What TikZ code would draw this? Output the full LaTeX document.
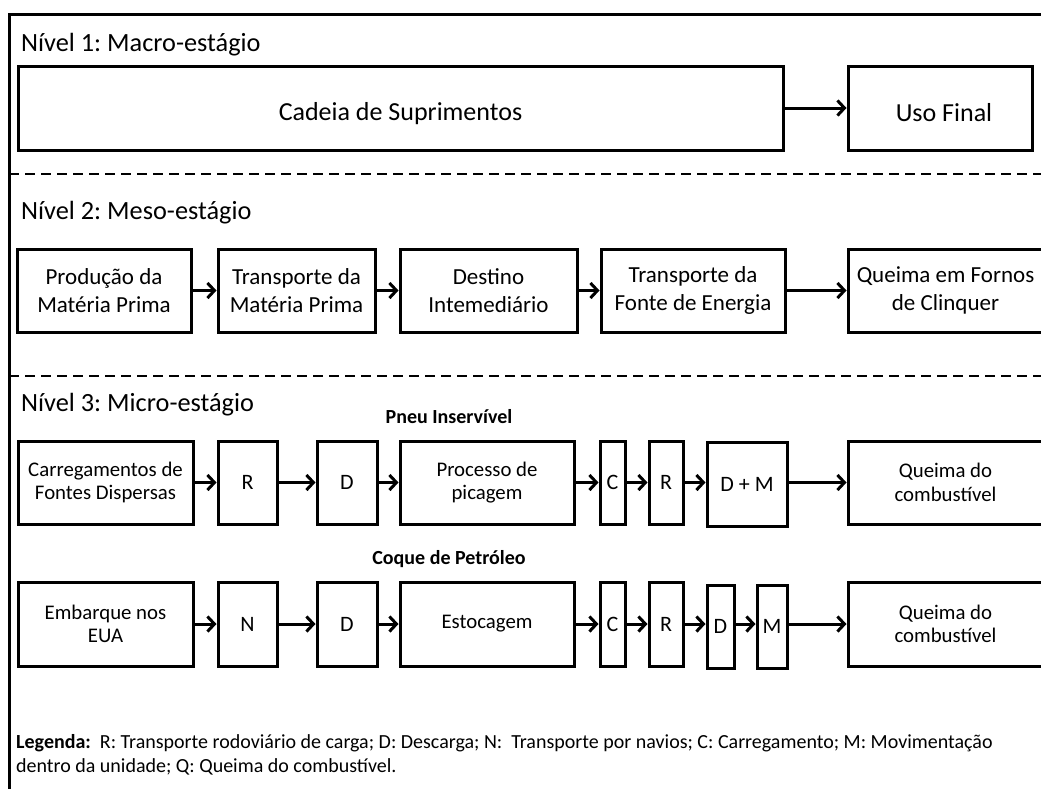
\documentclass[tikz,border=0pt]{standalone}
\usepackage{fontspec}
\setmainfont{Carlito}
\usetikzlibrary{arrows.meta}
\frenchspacing

\begin{document}
\begin{tikzpicture}[x=1pt,y=-1pt,
  box/.style={draw,line width=3pt,inner sep=0pt,align=center,minimum height=83pt,font=\fontsize{20.8}{23.5}\selectfont},
  letter/.style={box,font=\fontsize{22}{26}\selectfont},
  flow/.style={line width=3pt,-{Straight Barb[length=7pt,width=15pt]}},
  level/.style={anchor=west,inner sep=0pt,font=\fontsize{26.3}{30}\selectfont},
  split/.style={line width=1.8pt,dash pattern=on 10pt off 6pt}]

\pgfmathsetmacro{\YA}{108}
\pgfmathsetmacro{\YB}{290.5}
\pgfmathsetmacro{\YP}{482.5}
\pgfmathsetmacro{\YC}{624}

\clip (0,0) rectangle (1041,788);

% frame
\draw[line width=3pt] (9,800)--(9,14)--(1050,14);

% level 1
\node[level] (lv1) at (21,45) {Nível 1: Macro-estágio};
\node[box,minimum width=765pt,minimum height=84pt,font=\fontsize{26}{30}\selectfont] (cadeia) at (400.5,\YA) {\raisebox{-12pt}[0pt][0pt]{Cadeia de Suprimentos}};
\node[box,minimum width=184pt,minimum height=84pt,font=\fontsize{26}{30}\selectfont] (uso) at (940,\YA) {\raisebox{-13pt}[0pt][0pt]{\hspace{8pt}Uso Final}};
\draw[flow] (cadeia) -- (uso);

\draw[split] (9,174) -- (1041,174);

% level 2
\node[level] (lv2) at (21,213) {Nível 2: Meso-estágio};
\begin{scope}[box/.append style={font=\fontsize{23}{28}\selectfont}]
\node[box,minimum width=174pt] (prod) at (104,\YB) {Produção da\\Matéria Prima};
\node[box,minimum width=157pt] (tmp) at (296.5,\YB) {Transporte da\\Matéria Prima};
\node[box,minimum width=177pt] (dest) at (488.5,\YB) {Destino\\Intemediário};
\node[box,minimum width=184pt] (tfe) at (693,\YB) {Transporte da\\Fonte de Energia};
\node[box,minimum width=195pt] (forno) at (945.5,\YB) {Queima em Fornos\\de Clinquer};
\end{scope}
\draw[flow] (prod) -- (tmp);
\draw[flow] (tmp) -- (dest);
\draw[flow] (dest) -- (tfe);
\draw[flow] (tfe) -- (forno);

\draw[split] (9,376) -- (1041,376);

% level 3
\node[level] (lv3) at (21,405) {Nível 3: Micro-estágio};

% pneu
\node[font=\bfseries\fontsize{20}{22}\selectfont] (pneu) at (449,417) {Pneu Inservível};
\node[box,minimum width=175pt] (carr) at (105.5,\YP) {Carregamentos de\\Fontes Dispersas};
\node[letter,minimum width=59pt] (ra) at (247.5,\YP) {R};
\node[letter,minimum width=60pt] (da) at (347,\YP) {D};
\node[box,minimum width=174pt] (pica) at (487,\YP) {Processo de\\picagem};
\node[letter,minimum width=25pt] (ca) at (612.5,\YP) {C};
\node[letter,minimum width=34pt] (rb) at (666,\YP) {R};
\node[letter,minimum width=80pt,minimum height=84pt] (dm) at (747,\YP+2) {D + M};
\node[box,minimum width=195pt] (qa) at (945.5,\YP) {Queima do\\combustível};
\draw[flow] (carr) -- (ra);
\draw[flow] (ra) -- (da);
\draw[flow] (da) -- (pica);
\draw[flow] (pica) -- (ca);
\draw[flow] (ca) -- (rb);
\draw[flow] (rb.east) -- (rb.east -| dm.west);
\draw[flow] (dm.east |- qa.west) -- (qa.west);

% coque
\node[font=\bfseries\fontsize{20}{22}\selectfont] (coque) at (449,559) {Coque de Petróleo};
\node[box,minimum width=175pt,minimum height=84pt] (emb) at (105.5,\YC) {Embarque nos\\EUA};
\node[letter,minimum width=59pt,minimum height=84pt] (na) at (247.5,\YC) {N};
\node[letter,minimum width=60pt,minimum height=84pt] (db) at (347,\YC) {D};
\node[box,minimum width=174pt,minimum height=84pt] (esto) at (487,\YC) {Estocagem};
\node[letter,minimum width=25pt,minimum height=84pt] (cb) at (612.5,\YC) {C};
\node[letter,minimum width=34pt,minimum height=84pt] (rc) at (666,\YC) {R};
\node[letter,minimum width=27pt,minimum height=83pt] (dc) at (720.5,\YC+2.5) {D};
\node[letter,minimum width=30pt,minimum height=83pt] (ma) at (772,\YC+2.5) {M};
\node[box,minimum width=195pt,minimum height=84pt] (qb) at (945.5,\YC) {Queima do\\combustível};
\draw[flow] (emb) -- (na);
\draw[flow] (na) -- (db);
\draw[flow] (db) -- (esto);
\draw[flow] (esto) -- (cb);
\draw[flow] (cb) -- (rc);
\draw[flow] (rc.east) -- (rc.east -| dc.west);
\draw[flow] (dc.east |- rc.east) -- (ma.west |- rc.east);
\draw[flow] (ma.east |- qb.west) -- (qb.west);

% legend
\node[anchor=north west,align=left,inner sep=0pt,font=\fontsize{20}{24}\selectfont] (legenda) at (16,734)
  {\textbf{Legenda:}\ \ R: Transporte rodoviário de carga; D: Descarga; N:\ \ Transporte por navios; C: Carregamento; M: Movimentação\\
   dentro da unidade; Q: Queima do combustível.};
\end{tikzpicture}
\end{document}
